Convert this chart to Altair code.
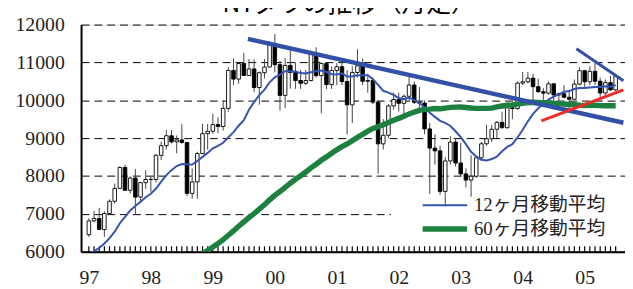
import json
import altair as alt
import pandas as pd

# ---------------- data (monthly, Jan 1997 .. Jul 2005) ----------------
year_labels = ["97", "98", "99", "00", "01", "02", "03", "04", "05"]
title_text = "NYダウの推移（月足）"
legend_12 = "12ヶ月移動平均"
legend_60 = "60ヶ月移動平均"

opens = [
    6448, 6813, 6877, 6584, 7009, 7331, 7673, 8223, 7622, 7945, 7442, 7823,
    7908, 7907, 8546, 8800, 9063, 8900, 8952, 8883, 7539, 7843, 8592, 9117,
    9181, 9359, 9307, 9786, 10789, 10560, 10971, 10655, 10829, 10337, 10729, 10878,
    11497, 10941, 10128, 10922, 10734, 10522, 10448, 10522, 11215, 10651, 10971, 10415,
    10787, 10887, 10495, 9879, 10735, 10912, 10502, 10523, 9950, 8848, 9075, 9852,
    10021, 9920, 10106, 10404, 9946, 9925, 9243, 8737, 8664, 7592, 8397, 8896,
    8342, 8054, 7891, 7992, 8480, 8850, 8985, 9234, 9416, 9275, 9801, 9782,
    10454, 10488, 10584, 10358, 10226, 10188, 10435, 10140, 10174, 10080, 10027, 10428,
    10783, 10490, 10766, 10504, 10193, 10467, 10275,
]
closes = [
    6813, 6877, 6584, 7009, 7331, 7673, 8223, 7622, 7945, 7442, 7823, 7908,
    7907, 8546, 8800, 9063, 8900, 8952, 8883, 7539, 7843, 8592, 9117, 9181,
    9359, 9307, 9786, 10789, 10560, 10971, 10655, 10829, 10337, 10729, 10878, 11497,
    10941, 10128, 10922, 10734, 10522, 10448, 10522, 11215, 10651, 10971, 10415, 10787,
    10887, 10495, 9879, 10735, 10912, 10502, 10523, 9950, 8848, 9075, 9852, 10021,
    9920, 10106, 10404, 9946, 9925, 9243, 8737, 8664, 7592, 8397, 8896, 8342,
    8054, 7891, 7992, 8480, 8850, 8985, 9234, 9416, 9275, 9801, 9782, 10454,
    10488, 10584, 10358, 10226, 10188, 10435, 10140, 10174, 10080, 10027, 10428, 10783,
    10490, 10766, 10504, 10193, 10467, 10275, 10641,
]
highs = [
    6883, 7079, 7158, 7060, 7383, 7796, 8254, 8299, 7991, 8178, 7842, 8149,
    7978, 8580, 8906, 9211, 9213, 9070, 9367, 8900, 8200, 8640, 9380, 9374,
    9643, 9552, 10006, 10878, 11107, 10978, 11252, 11090, 11079, 10760, 11090, 11568,
    11750, 11041, 11119, 11425, 11000, 10800, 10800, 11310, 11400, 10990, 11000, 10900,
    10983, 11000, 10800, 10900, 11350, 11100, 10700, 10600, 10000, 9500, 9900, 10200,
    10200, 10150, 10673, 10500, 10350, 10000, 9400, 9100, 8800, 8500, 9050, 9000,
    8870, 8200, 8550, 8530, 8900, 9350, 9350, 9450, 9700, 9900, 9900, 10500,
    10750, 10750, 10700, 10570, 10320, 10500, 10450, 10200, 10400, 10250, 10550, 10870,
    10800, 10900, 10980, 10600, 10550, 10650, 10700,
]
lows = [
    6392, 6781, 6583, 6392, 6976, 7269, 7659, 7622, 7538, 6971, 7282, 7660,
    7580, 7830, 8419, 8700, 8857, 8600, 8853, 7470, 7400, 7400, 8600, 8696,
    9120, 9134, 9200, 9700, 10400, 10440, 10655, 10646, 10213, 9884, 10580, 10998,
    10738, 9731, 9796, 10306, 10300, 10300, 10400, 10500, 10600, 9654, 10300, 10300,
    10400, 10400, 9100, 9400, 10600, 10400, 10200, 9900, 8062, 8700, 9000, 9750,
    9700, 9600, 10000, 9900, 9800, 9100, 7532, 8300, 7500, 7197, 8300, 8250,
    8000, 7700, 7450, 7950, 8400, 8800, 8900, 9000, 9250, 9250, 9500, 9750,
    10400, 10450, 10000, 10200, 9850, 10150, 9950, 9780, 10050, 9750, 10020, 10400,
    10350, 10400, 10400, 10000, 10100, 10250, 10250,
]
ma12 = [
    5898, 6014, 6097, 6217, 6358, 6526, 6751, 6918, 7090, 7207, 7316, 7438,
    7529, 7668, 7852, 8024, 8154, 8261, 8316, 8309, 8300, 8396, 8504, 8610,
    8731, 8795, 8877, 9021, 9159, 9327, 9475, 9749, 9957, 10135, 10282, 10475,
    10607, 10675, 10770, 10765, 10762, 10718, 10707, 10739, 10766, 10786, 10747, 10688,
    10684, 10714, 10627, 10627, 10660, 10664, 10664, 10559, 10409, 10251, 10204, 10140,
    10059, 10027, 10071, 10005, 9923, 9818, 9669, 9562, 9457, 9401, 9321, 9181,
    9026, 8841, 8640, 8518, 8428, 8407, 8448, 8511, 8651, 8767, 8841, 9017,
    9220, 9444, 9641, 9787, 9898, 10019, 10095, 10158, 10225, 10244, 10298, 10325,
    10325, 10340, 10353, 10350, 10373, 10360, 10402,
]
ma60_first_month = 22  # Nov 1998
ma60 = [
    5942, 6032,
    6122, 6213, 6315, 6434, 6547, 6670, 6785, 6900, 7008, 7122, 7241, 7368,
    7487, 7589, 7701, 7808, 7909, 8007, 8104, 8214, 8311, 8415, 8504, 8598,
    8690, 8773, 8845, 8931, 9019, 9099, 9183, 9255, 9304, 9355, 9411, 9470,
    9522, 9576, 9640, 9689, 9732, 9758, 9767, 9784, 9778, 9794, 9812, 9819,
    9822, 9811, 9797, 9787, 9786, 9787, 9793, 9824, 9848, 9868, 9879, 9900,
    9919, 9940, 9950, 9941, 9935, 9926, 9917, 9906, 9902, 9890, 9883, 9871,
    9864, 9874, 9867, 9858, 9857, 9854, 9856,
]

# trend lines drawn on the chart (month index, index value)
trend_main_m = [30.8, 103.5]
trend_main_v = [11621, 9407]
trend_red_m = [87.6, 103.5]
trend_red_v = [9454, 10274]
trend_top_m = [94.4, 103.5]
trend_top_v = [11360, 10515]

# ---------------- tables ----------------
n = len(closes)
candles = pd.DataFrame({
    "m": list(range(n)),
    "open": opens, "high": highs, "low": lows, "close": closes,
})
ma_df = pd.concat([
    pd.DataFrame({"m": list(range(len(ma12))), "series": legend_12, "value": ma12}),
    pd.DataFrame({"m": [ma60_first_month + i for i in range(len(ma60))],
                  "series": legend_60, "value": ma60}),
], ignore_index=True)

SERIF = "Liberation Serif"
LEGEND_FONT = "Liberation Serif, 'Noto Sans CJK JP'"

x_scale = alt.Scale(domain=[-0.56, 102.85], nice=False, zero=False)
y_scale = alt.Scale(domain=[6000, 12000], nice=False, zero=False)

x_axis = alt.Axis(
    values=list(range(0, 12 * len(year_labels), 12)),
    labelExpr=f"{json.dumps(year_labels)}[round(datum.value/12)]",
    grid=False, ticks=False, tickSize=0,
    domainColor="black", domainWidth=2,
    labelFont=SERIF, labelFontSize=20, labelColor="#222",
    labelPadding=16, labelFlush=False, labelOverlap=False, title=None,
)
y_axis = alt.Axis(
    values=list(range(6000, 12001, 1000)), format="d",
    grid=True, gridColor="black", gridDash=[8, 5], gridWidth=1,
    ticks=False, tickSize=0,
    domainColor="black", domainWidth=2,
    labelFont=SERIF, labelFontSize=20, labelColor="#222",
    labelPadding=17, labelFlush=False, labelOverlap=False, title=None,
)

X = alt.X("m:Q", scale=x_scale, axis=x_axis)


def Y(field):
    return alt.Y(field, scale=y_scale, axis=y_axis)


# white panel behind the legend (hides the grid there, candles stay on top)
legend_panel = alt.Chart(pd.DataFrame({"k": [0]})).mark_rect(color="white", clip=True).encode(
    x=alt.XDatum(58.5, scale=x_scale, axis=x_axis),
    x2=alt.datum(104),
    y=alt.YDatum(6080, scale=y_scale, axis=y_axis),
    y2=alt.datum(7470),
)

wicks = alt.Chart(candles).mark_rule(color="#444", strokeWidth=1).encode(
    x=X, y=Y("low:Q"), y2="high:Q",
)
bodies = alt.Chart(candles).mark_bar(size=3.6, stroke="black", strokeWidth=0.9).encode(
    x=X, y=Y("open:Q"), y2="close:Q",
    fill=alt.condition("datum.close >= datum.open", alt.value("white"), alt.value("black")),
)
month_ticks = alt.Chart(candles).mark_rule(color="black", strokeWidth=1.2).encode(
    x=X,
    y=alt.YDatum(6000, scale=y_scale, axis=y_axis),
    y2=alt.datum(6140),
)

legend = alt.Legend(
    orient="none", legendX=340, legendY=168, title=None,
    symbolType="stroke", symbolSize=2025, clipHeight=24,
    labelFont=LEGEND_FONT, labelFontSize=19, labelColor="#222",
    labelOffset=4, labelLimit=400, rowPadding=0, padding=3,
)
ma_lines = alt.Chart(ma_df).mark_line(clip=True, strokeCap="butt").encode(
    x=X, y=Y("value:Q"),
    color=alt.Color("series:N",
                    scale=alt.Scale(domain=[legend_12, legend_60], range=["#3553B0", "#1D8040"]),
                    legend=legend),
    strokeWidth=alt.StrokeWidth("series:N",
                                scale=alt.Scale(domain=[legend_12, legend_60], range=[2, 5.5]),
                                legend=legend),
)


def trend(ms, vs, color, width):
    df = pd.DataFrame({"m": ms, "value": vs})
    return alt.Chart(df).mark_line(clip=True, color=color, strokeWidth=width).encode(
        x=X, y=Y("value:Q")
    )


chart = alt.layer(
    legend_panel, wicks, bodies, month_ticks, ma_lines,
    trend(trend_main_m, trend_main_v, "#3150A6", 4.5),
    trend(trend_red_m, trend_red_v, "#F22A2A", 3),
    trend(trend_top_m, trend_top_v, "#3150A6", 3),
).properties(
    width=551, height=230,
    padding={"left": 74, "top": 15, "right": 0, "bottom": 34},
    autosize=alt.AutoSizeParams(type="none"),
    title=alt.TitleParams(
        title_text, font="Noto Sans CJK JP", fontSize=25, fontWeight="normal",
        color="black", anchor="middle", frame="group", baseline="alphabetic",
        offset=0, dx=-4, dy=22,
    ),
).configure_view(stroke=None).configure(background="white")

chart.save("out.html", embed_options={"renderer": "svg", "actions": False})
